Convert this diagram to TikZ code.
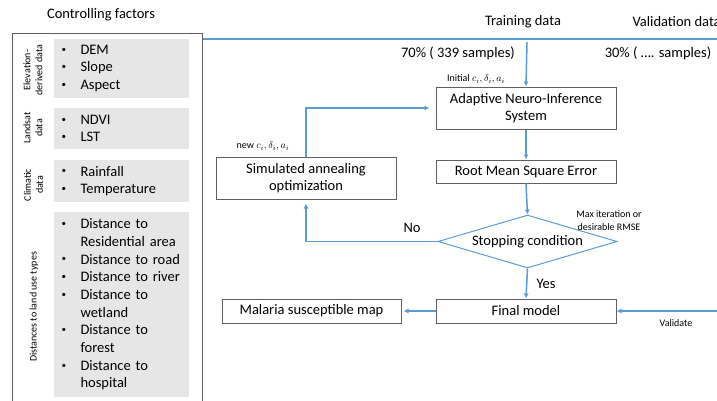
\documentclass[tikz,border=0pt]{standalone}
\usepackage{fontspec}
\setmainfont{Carlito}
\usetikzlibrary{arrows.meta,shapes.geometric}

\definecolor{flowblue}{RGB}{91,155,213}
\definecolor{factorgray}{RGB}{230,230,230}
\definecolor{edgegray}{RGB}{95,95,95}

% bullet entries of the factor lists
\newcommand{\bitem}[1]{\makebox[19pt][l]{\raisebox{2.2pt}{\fontsize{9}{9}\selectfont\textbullet}}#1}
\newcommand{\bmore}[1]{\hspace*{19pt}#1}

\begin{document}
\begin{tikzpicture}[x=1pt,y=-1pt,
    every node/.style={font=\fontsize{14.5}{17.7}\selectfont},
    factorbox/.style={fill=factorgray, text width=119.5pt, inner xsep=8pt, inner ysep=0pt, minimum height=#1, align=left},
    sidelabel/.style={rotate=90, align=center, inner sep=0pt, font=\fontsize{10}{12}\selectfont},
    procbox/.style={draw=edgegray, line width=1pt, minimum width=180pt, minimum height=#1, align=center, inner sep=0pt},
    decision/.style={diamond, aspect=3.38, draw=flowblue, line width=1pt, minimum width=179pt, minimum height=53pt, inner sep=0pt},
    flow/.style={flowblue, line width=1.5pt, -{Latex[length=5pt,width=5pt]}},
    note/.style={font=\fontsize{10}{13}\selectfont, align=center, inner sep=0pt}]
                \useasboundingbox (0,0) rectangle (717,400);
                \clip (0,0) rectangle (717,400);

                % controlling factors
                \node (title) at (101,15) {Controlling factors};
                \node[draw=edgegray, line width=1pt, minimum width=190pt, minimum height=380pt, anchor=north west, inner sep=0pt] (factors) at (12,33) {};

                \node[factorbox=59pt] (elev) at (121.25,68.5) {\bitem{DEM}\\\bitem{Slope}\\\bitem{Aspect}};
                \node[factorbox=41pt] (landsat) at (121.25,128.5) {\bitem{NDVI}\\\bitem{LST}};
                \node[factorbox=42pt] (climate) at (121.25,181) {\bitem{Rainfall}\\\bitem{Temperature}};
                \node[factorbox=185pt] (landuse) at (121.25,304.5) {\bitem{Distance to}\\\bmore{Residential area}\\\bitem{Distance to road}\\\bitem{Distance to river}\\\bitem{Distance to}\\\bmore{wetland}\\\bitem{Distance to}\\\bmore{forest}\\\bitem{Distance to}\\\bmore{hospital}};

                \node[sidelabel] (elevlab) at (33,70) {Elevation-\\derived data};
                \node[sidelabel] (landsatlab) at (33,128) {Landsat\\data};
                \node[sidelabel] (climatelab) at (33.5,185) {Climatic\\data};
                \node[sidelabel] (landuselab) at (34,307) {Distances to land use types};

                % data split
                \draw[flowblue, line width=1.5pt] ([yshift=-6pt]factors.north east) -- ++(530,0);
                \node (train) at (523,22) {Training data};
                \node[anchor=west] (valid) at (629,22) {Validation data};
                \node (trainpct) at (458,53) {70\% ( 339 samples)};
                \node (validpct) at (658,53) {30\% ( …. samples)};
                \coordinate (trainin) at (527,42);
                \coordinate (validin) at (722,311);

                % training loop
                \node[procbox=42pt] (anfis) at (526,108) {Adaptive Neuro-Inference\\System};
                \node[procbox=23pt] (rmse) at (526,171.5) {Root Mean Square Error};
                \node[decision] (stop) at (527.5,241.5) {Stopping condition};
                \node[procbox=42pt] (anneal) at (306,178) {Simulated annealing\\optimization};
                \node[procbox=24pt] (final) at (526,311) {Final model};
                \node[procbox=24pt, minimum width=179pt] (map) at (311.5,311) {Malaria susceptible map};

                \node[note] (initlab) at (476,79) {Initial $c_i, \delta_i, a_i$};
                \node[note] (newlab) at (263,146) {new $c_i, \delta_i, a_i$};
                \node[note] (maxlab) at (609,220.5) {Max iteration or\\desirable RMSE};
                \node (nolab) at (412,228) {No};
                \node (yeslab) at (546,284) {Yes};
                \node[note] (validlab) at (676,323) {Validate};

                \draw[flow] (trainin) -- (anfis.north);
                \draw[flow] (anfis.south) -- (rmse.north);
                \draw[flow] (rmse.south) -- (stop.north);
                \draw[flow] (stop.south) -- (final.north);
                \draw[flow] (stop.west) -| ([yshift=-4pt]anneal.south);
                \draw[flow] (anneal.north) |- ([xshift=-6pt]anfis.west);
                \draw[flow] (final.west) -- ([xshift=2pt]map.east);
                \draw[flow] (validin) -- (final.east);
            \end{tikzpicture}
\end{document}
